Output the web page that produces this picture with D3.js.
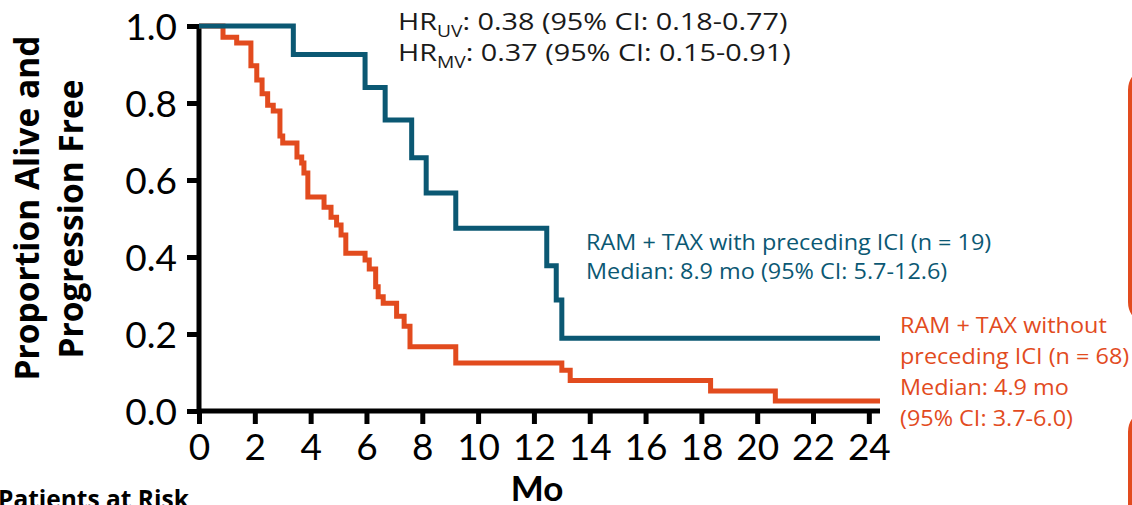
<!DOCTYPE html>
<html>
<head>
<meta charset="utf-8">
<script src="https://cdn.jsdelivr.net/npm/d3@7"></script>
<style>
  html, body { margin: 0; padding: 0; background: #fff; }
  svg { display: block; }
</style>
</head>
<body>
<svg id="chart" width="1132" height="505"></svg>
<script>
// ---- Data ----
const xTicks = [0, 2, 4, 6, 8, 10, 12, 14, 16, 18, 20, 22, 24];
const yTicks = [0, 0.2, 0.4, 0.6, 0.8, 1.0];

// RAM + TAX without preceding ICI (n = 68): times of steps (mo) and survival after each step
const withoutTimes = [0, 0.86, 1.35, 1.86, 2.07, 2.26, 2.46, 2.66, 2.90, 3.00, 3.51, 3.68, 3.76, 3.90, 4.48, 4.73, 4.93, 5.09, 5.26, 5.95, 6.10, 6.33, 6.42, 6.60, 7.08, 7.35, 7.56, 9.20, 13.0, 13.3, 18.33, 20.65, 24.4];
const withoutSurv  = [1.0, 0.971, 0.956, 0.897, 0.86, 0.824, 0.794, 0.779, 0.714, 0.696, 0.66, 0.644, 0.618, 0.556, 0.529, 0.503, 0.483, 0.457, 0.41, 0.392, 0.369, 0.323, 0.297, 0.28, 0.246, 0.22, 0.167, 0.125, 0.106, 0.079, 0.052, 0.026, 0.026];

// RAM + TAX with preceding ICI (n = 19)
const withTimes = [0, 3.38, 5.95, 6.67, 7.62, 8.14, 9.20, 12.46, 12.8, 13.0, 24.4];
const withSurv  = [1.0, 0.926, 0.84, 0.756, 0.658, 0.566, 0.475, 0.377, 0.288, 0.189, 0.189];

const hrLines = [
  { sub: "UV", rest: ": 0.38 (95% CI: 0.18-0.77)" },
  { sub: "MV", rest: ": 0.37 (95% CI: 0.15-0.91)" }
];
const tealLabel = ["RAM + TAX with preceding ICI (n = 19)", "Median: 8.9 mo (95% CI: 5.7-12.6)"];
const orangeLabel = ["RAM + TAX without", "preceding ICI (n = 68)", "Median: 4.9 mo", "(95% CI: 3.7-6.0)"];

// ---- Drawing ----
const TEAL = "#0b5873";
const ORANGE = "#e24b1e";
const LATO = "Lato, sans-serif";
const OPEN = "'Open Sans', sans-serif";
const svg = d3.select("#chart");
svg.append("rect").attr("width", 1132).attr("height", 505).attr("fill", "#fff");

const x = d3.scaleLinear().domain([0, 24.4]).range([199, 880]);
const y = d3.scaleLinear().domain([0, 1]).range([411, 26]);

// Y axis
const yAxis = d3.axisLeft(y).tickValues(yTicks).tickFormat(d3.format(".1f")).tickSize(12).tickSizeOuter(0).tickPadding(10);
const gy = svg.append("g").attr("transform", `translate(${x(0)},0)`).call(yAxis);
gy.select(".domain").attr("stroke", "#000").attr("stroke-width", 5).attr("d", `M0,${y(1) - 2}V${y(0) + 2}`);
gy.selectAll(".tick line").attr("stroke", "#000").attr("stroke-width", 5);
gy.selectAll(".tick text").style("font-size", "37px").style("font-family", LATO).attr("fill", "#000").attr("dy", "0.36em");

// X axis
const xAxis = d3.axisBottom(x).tickValues(xTicks).tickFormat(d3.format("d")).tickSize(13).tickSizeOuter(0).tickPadding(8);
const gx = svg.append("g").attr("transform", `translate(0,${y(0)})`).call(xAxis);
gx.select(".domain").attr("stroke", "#000").attr("stroke-width", 5).attr("d", `M${x(0) - 2},0H${x(24.4)}`);
gx.selectAll(".tick line").attr("stroke", "#000").attr("stroke-width", 5);
gx.selectAll(".tick text").style("font-size", "37px").style("font-family", LATO).attr("fill", "#000").attr("dy", null).attr("y", 49);

// Curves
const line = d3.line().x(d => x(d[0])).y(d => y(d[1])).curve(d3.curveStepAfter);
const orangePts = withoutTimes.map((t, i) => [t, withoutSurv[i]]);
const tealPts = withTimes.map((t, i) => [t, withSurv[i]]);
svg.append("path").datum(orangePts).attr("d", line).attr("fill", "none").attr("stroke", ORANGE).attr("stroke-width", 5);
svg.append("path").datum(tealPts).attr("d", line).attr("fill", "none").attr("stroke", TEAL).attr("stroke-width", 5);

// Axis titles
const yt = svg.append("g").style("font-weight", "bold").style("font-size", "33.5px").style("font-family", OPEN)
  .attr("fill", "#000").attr("text-anchor", "middle");
yt.append("text").attr("transform", "translate(39,208) rotate(-90)").text("Proportion Alive and");
yt.append("text").attr("transform", "translate(83,219) rotate(-90)").text("Progression Free");
svg.append("text").attr("x", 537).attr("y", 501).attr("text-anchor", "middle")
  .style("font-weight", "bold").style("font-size", "35px").style("font-family", LATO).text("Mo");
svg.append("text").attr("x", -2).attr("y", 508)
  .style("font-weight", "bold").style("font-size", "24.5px").style("font-family", OPEN).text("Patients at Risk");

// HR annotation (slightly wide lettering, as in the reference)
const hrG = svg.append("g").attr("transform", "translate(398,0) scale(1.2,1)");
hrLines.forEach((h, i) => {
  const t = hrG.append("text").attr("x", 0).attr("y", 30 + i * 31)
    .style("font-size", "24px").style("font-family", OPEN).attr("fill", "#1a1a1a");
  t.append("tspan").text("HR");
  t.append("tspan").attr("dy", 7).style("font-size", "16px").text(h.sub);
  t.append("tspan").attr("dy", -7).text(h.rest);
});

// Group labels
const tealG = svg.append("g").attr("transform", "translate(586,0) scale(1.09,1)");
tealLabel.forEach((s, i) => {
  tealG.append("text").attr("x", 0).attr("y", 250 + i * 29.5)
    .style("font-size", "21.5px").style("font-family", OPEN).attr("fill", TEAL).text(s);
});
const orangeG = svg.append("g").attr("transform", "translate(900,0) scale(1.09,1)");
orangeLabel.forEach((s, i) => {
  orangeG.append("text").attr("x", 0).attr("y", 333 + i * 31)
    .style("font-size", "21.5px").style("font-family", OPEN).attr("fill", ORANGE).text(s);
});

// Partially visible boxes at right edge
svg.append("rect").attr("x", 1130).attr("y", 68).attr("width", 120).attr("height", 256).attr("rx", 22)
  .attr("fill", "none").attr("stroke", ORANGE).attr("stroke-width", 4);
svg.append("rect").attr("x", 1130).attr("y", 410).attr("width", 120).attr("height", 200).attr("rx", 22)
  .attr("fill", "none").attr("stroke", ORANGE).attr("stroke-width", 4);
</script>
</body>
</html>
